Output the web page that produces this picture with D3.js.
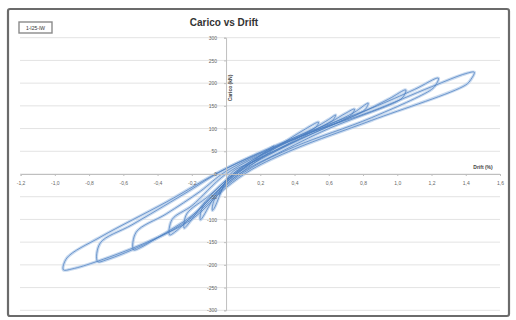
<!DOCTYPE html>
<html><head><meta charset="utf-8">
<script src="https://cdn.jsdelivr.net/npm/d3@7"></script>
<style>body{margin:0;background:#fff}svg{display:block}</style>
</head><body>
<svg id="c" width="516" height="320"></svg>
<script>
const title = "Carico vs Drift";
const legendLabel = "1-I25-IW";
const xTitle = "Drift (%)";
const yTitle = "Carico (kN)";
const xTickValues = [-1.2,-1.0,-0.8,-0.6,-0.4,-0.2,0,0.2,0.4,0.6,0.8,1.0,1.2,1.4,1.6];
const yTickValues = [300,250,200,150,100,50,0,-50,-100,-150,-200,-250,-300];

// hysteresis cycles: [drift %, load kN], upper branch then lower branch
const cycle0 = [[-0.04,-45],[-0.03,-30],[0.05,-4],[0.15,26],[0.24,52],[0.28,62],
                [0.27,55],[0.2,38],[0.1,12],[0.0,-16],[-0.035,-43]];
const cycle1 = [[-0.08,-80],[-0.07,-58],[0,-24],[0.15,20],[0.3,60],[0.45,96],[0.54,114],
                [0.525,103],[0.5,97],[0.35,64],[0.15,26],[0.03,2],[-0.07,-76]];
const cycle2 = [[-0.15,-101],[-0.14,-75],[-0.05,-38],[0.1,16],[0.3,62],[0.5,98],[0.6,120],[0.64,130],
                [0.625,119],[0.6,113],[0.4,72],[0.2,34],[0.06,6],[-0.05,-40],[-0.14,-97]];
const cycle3 = [[-0.245,-119],[-0.23,-88],[-0.1,-48],[0.1,18],[0.35,68],[0.6,112],[0.7,134],[0.75,143],
                [0.735,131],[0.71,124],[0.45,80],[0.2,36],[0.08,8],[0,-14],[-0.12,-60],[-0.23,-114]];
const cycle4 = [[-0.33,-134],[-0.315,-100],[-0.2,-70],[0,0],[0.3,60],[0.6,108],[0.75,136],[0.83,156],
                [0.815,143],[0.79,136],[0.5,88],[0.25,42],[0.1,10],[0,-18],[-0.15,-75],[-0.3,-128]];
const cycle5 = [[-0.54,-167],[-0.525,-128],[-0.35,-88],[-0.15,-38],[0,6],[0.4,78],[0.75,128],[0.95,165],[1.05,185],
                [1.035,170],[1.0,160],[0.6,100],[0.3,45],[0.12,10],[0,-22],[-0.2,-92],[-0.4,-140],[-0.50,-162]];
const cycle6 = [[-0.75,-193],[-0.735,-152],[-0.55,-112],[-0.25,-45],[0,12],[0.45,88],[0.85,145],[1.10,186],[1.24,211],
                [1.225,196],[1.20,186],[0.85,124],[0.4,60],[0.15,14],[0,-26],[-0.2,-96],[-0.45,-150],[-0.70,-189]];
const cycle7 = [[-0.95,-211],[-0.93,-185],[-0.73,-138],[-0.35,-62],[0,12],[0.5,92],[0.85,138],[1.2,192],[1.40,221],[1.45,224],
                [1.43,208],[1.40,196],[0.85,118],[0.4,55],[0.15,10],[0,-30],[-0.2,-100],[-0.45,-148],[-0.75,-192],[-0.90,-209]];
const cycles = [cycle7,cycle6,cycle5,cycle4,cycle3,cycle2,cycle1,cycle0];

const svg = d3.select("#c");
const x = d3.scaleLinear().domain([-1.2,1.6]).range([20.6,500]);
const y = d3.scaleLinear().domain([-300,300]).range([310.3,37.7]);

// outer frame
svg.append("rect").attr("x",8).attr("y",9).attr("width",501).attr("height",307)
  .attr("fill","#fff").attr("stroke","#6b6b6b").attr("stroke-width",2.2).attr("rx",2);

// gridlines
svg.append("g").selectAll("line").data(yTickValues).join("line")
  .attr("x1",20).attr("x2",500).attr("y1",d=>y(d)).attr("y2",d=>y(d))
  .attr("stroke","#e3e3e3").attr("stroke-width",1);

// loops
const line = d3.line().x(d=>x(d[0])).y(d=>y(d[1])).curve(d3.curveCatmullRomClosed.alpha(0.5));
const gl = svg.append("g");
gl.selectAll("path.w").data(cycles).join("path").attr("class","w")
  .attr("d",line).attr("fill","none").attr("stroke","#b7cdea").attr("stroke-width",3.2).attr("stroke-opacity",0.75);
gl.selectAll("path.t").data(cycles).join("path").attr("class","t")
  .attr("d",line).attr("fill","none").attr("stroke","#4a7dc0").attr("stroke-width",0.9).attr("stroke-opacity",0.8);

// axes
const fmt = d => d3.format(".1f")(d).replace(".",",").replace("−","-");
const xAxis = d3.axisBottom(x).tickValues(xTickValues).tickSize(2).tickFormat(d=> d===0 ? "" : fmt(d));
const gx = svg.append("g").attr("transform",`translate(0,${y(0)})`).call(xAxis);
gx.select(".domain").attr("stroke","#bfbfbf");
gx.selectAll(".tick line").attr("stroke","#bfbfbf");
gx.selectAll("text").attr("fill","#666").attr("font-size",5).attr("font-family","Liberation Sans, Arial").attr("dy","1.2em");

const yAxis = d3.axisLeft(y).tickValues(yTickValues).tickSize(2).tickFormat(d=>String(d));
const gy = svg.append("g").attr("transform",`translate(${x(0)},0)`).call(yAxis);
gy.select(".domain").attr("stroke","#bfbfbf");
gy.selectAll(".tick line").attr("stroke","#bfbfbf");
gy.selectAll("text").attr("fill","#666").attr("font-size",5).attr("font-family","Liberation Sans, Arial").attr("dx","-0.8em");

// titles
svg.append("text").attr("x",224).attr("y",26).attr("text-anchor","middle")
  .attr("font-family","Liberation Sans, Arial").attr("font-weight","bold").attr("font-size",10).attr("fill","#333").text(title);
svg.append("text").attr("transform",`translate(232,88) rotate(-90)`).attr("text-anchor","middle")
  .attr("font-family","Liberation Sans, Arial").attr("font-weight","bold").attr("font-size",5).attr("fill","#444").text(yTitle);
svg.append("text").attr("x",483).attr("y",169).attr("text-anchor","middle")
  .attr("font-family","Liberation Sans, Arial").attr("font-weight","bold").attr("font-size",5).attr("fill","#444").text(xTitle);

// legend box
svg.append("rect").attr("x",19).attr("y",22).attr("width",33).attr("height",11)
  .attr("fill","#fff").attr("stroke","#8a8a8a").attr("stroke-width",1.4);
svg.append("text").attr("x",35.5).attr("y",29.5).attr("text-anchor","middle")
  .attr("font-family","Liberation Sans, Arial").attr("font-size",5).attr("fill","#333").text(legendLabel);
</script>
</body></html>
